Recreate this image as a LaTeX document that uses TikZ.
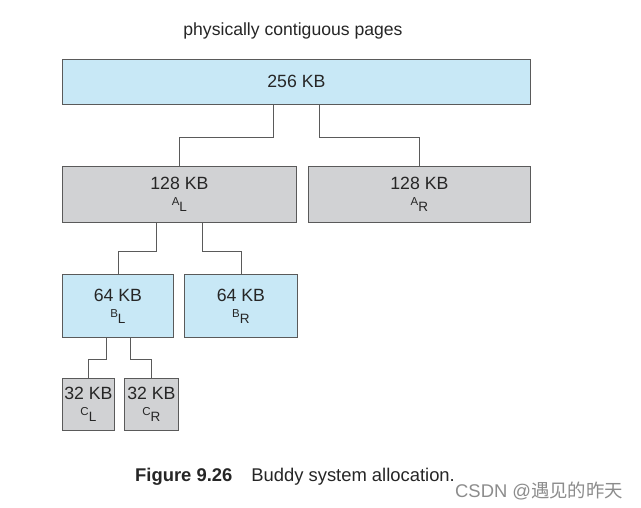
\documentclass[tikz,border=0pt]{standalone}
\usepackage{fontspec}
\setmainfont{Liberation Sans}
\newfontfamily\cjkfont{Noto Sans CJK SC}
\definecolor{memblue}{HTML}{C8E8F6}
\definecolor{memgray}{HTML}{D1D2D4}
\definecolor{edgegray}{HTML}{5A5A5A}
\newcommand\halfname[2]{{\fontsize{11.5}{11.5}\selectfont #1}\raisebox{-6pt}{\fontsize{13.5}{13.5}\selectfont #2}}
\tikzset{
  blk/.style={draw=edgegray,line width=0.8pt,anchor=north west,inner sep=0pt,align=center,
    font=\fontsize{17.7}{19}\selectfont,text=black!85},
  free/.style={blk,fill=memblue},
  used/.style={blk,fill=memgray},
  wire/.style={draw=edgegray,line width=0.8pt}
}
\begin{document}
\begin{tikzpicture}[x=1pt,y=1pt]
\useasboundingbox[fill=white] (0,0) rectangle (641,-508);
\node[font=\fontsize{17.6}{19}\selectfont,text=black!85] (title) at (293,-31) {physically contiguous pages};
\node[free,minimum width=468pt,minimum height=45pt] (top) at (62,-59) {256 KB};
\node[used,minimum width=234pt,minimum height=56pt] (al) at (62,-166) {128 KB\\[-3pt]\halfname{A}{L}};
\node[used,minimum width=222pt,minimum height=56pt] (ar) at (308,-166) {128 KB\\[-3pt]\halfname{A}{R}};
\node[free,minimum width=111pt,minimum height=63pt] (bl) at (62,-274) {64 KB\\[-3pt]\halfname{B}{L}};
\node[free,minimum width=113pt,minimum height=63pt] (br) at (184,-274) {64 KB\\[-3pt]\halfname{B}{R}};
\node[used,minimum width=52pt,minimum height=52pt] (cl) at (62,-378) {32 KB\\[-3pt]\halfname{C}{L}};
\node[used,minimum width=54pt,minimum height=52pt] (cr) at (124,-378) {32 KB\\[-3pt]\halfname{C}{R}};
% splits into buddies
\draw[wire] ([xshift=-23pt]top.south) -- ++(0,-33) -| (al.north);
\draw[wire] ([xshift=23pt]top.south) -- ++(0,-33) -| (ar.north);
\draw[wire] ([xshift=-23pt]al.south) -- ++(0,-29) -| (bl.north);
\draw[wire] ([xshift=23pt]al.south) -- ++(0,-29) -| (br.north);
\draw[wire] ([xshift=-12pt]bl.south) -- ++(0,-22) -| (cl.north);
\draw[wire] ([xshift=12pt]bl.south) -- ++(0,-22) -| (cr.north);
\node[anchor=base west,font=\fontsize{18.4}{20}\selectfont,text=black!85,inner sep=0pt] (caption) at (135,-481)
  {\textbf{Figure 9.26}\hspace{19pt}Buddy system allocation.};
\node[anchor=base west,font=\fontsize{18.4}{20}\selectfont,text=black!45,inner sep=0pt] (mark) at (455,-497)
  {CSDN @{\cjkfont 遇见的昨天}};
\end{tikzpicture}
\end{document}
